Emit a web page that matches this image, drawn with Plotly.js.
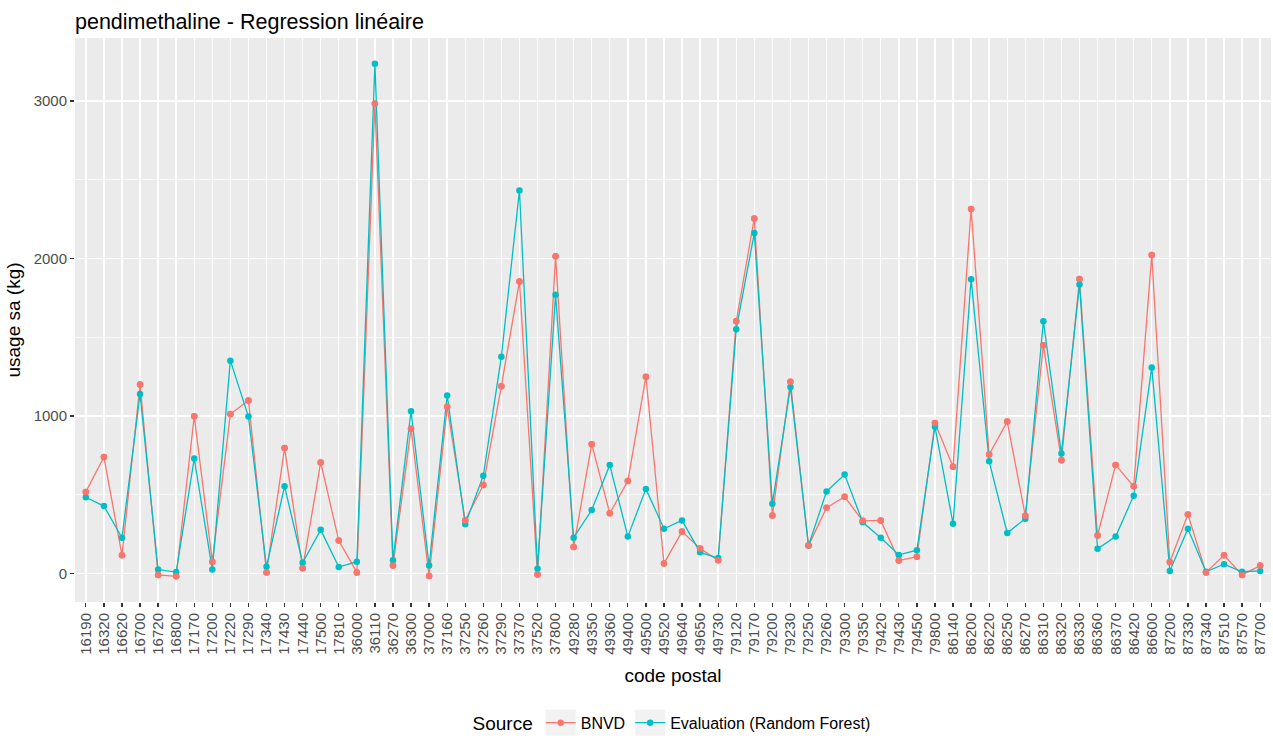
<!DOCTYPE html>
<html>
<head>
<meta charset="utf-8">
<script src="https://cdn.plot.ly/plotly-3.0.1.min.js"></script>
<style>
html,body{margin:0;padding:0;background:#fff;}
#chart{width:1273px;height:738px;}
</style>
</head>
<body>
<div id="chart"></div>
<script>
const codesPostaux = ["16190","16320","16620","16700","16720","16800","17170","17200","17220","17290",
  "17340","17430","17440","17500","17810","36000","36110","36270","36300","37000",
  "37160","37250","37260","37290","37370","37520","37800","49280","49350","49360",
  "49400","49500","49520","49640","49650","49730","79120","79170","79200","79230",
  "79250","79260","79300","79350","79420","79430","79450","79800","86140","86200",
  "86220","86250","86270","86310","86320","86330","86360","86370","86420","86600",
  "87200","87330","87340","87510","87570","87700"];

const bnvd = [518,739,116,1199,-9,-18,998,75,1012,1098,
  7,796,34,705,209,7,2984,50,919,-16,
  1058,337,562,1189,1854,-7,2013,168,821,382,
  587,1249,64,266,159,84,1601,2254,368,1217,
  177,418,487,334,337,82,107,955,678,2313,
  755,964,366,1449,719,1869,241,689,553,2022,
  73,375,7,116,-9,50];

const evaluationRF = [484,428,227,1139,25,9,730,25,1351,996,
  43,553,68,277,41,75,3236,84,1030,50,
  1130,312,621,1376,2431,30,1769,227,403,689,
  234,537,284,337,134,98,1551,2161,443,1183,
  177,521,628,325,227,118,148,932,316,1867,
  712,257,348,1601,762,1835,157,234,494,1308,
  16,284,11,59,11,16];

const yTicks = [0,1000,2000,3000];
const yTickText = ["0","1000","2000","3000"];

const RED = "#F8766D", CYAN = "#00BFC4";
const FONT = "Liberation Sans, Arial, Helvetica, sans-serif";

const traces = [
  {x: codesPostaux, y: bnvd, name: "BNVD", type: "scatter", mode: "lines+markers",
   line: {color: RED, width: 1.3}, marker: {color: RED, size: 6.5}},
  {x: codesPostaux, y: evaluationRF, name: "Evaluation (Random Forest)", type: "scatter", mode: "lines+markers",
   line: {color: CYAN, width: 1.3}, marker: {color: CYAN, size: 6.5}},
  {x: codesPostaux, y: bnvd, name: "BNVD", type: "scatter", mode: "markers", showlegend: false,
   marker: {color: RED, size: 6.5}, hoverinfo: "skip"}
];

const layout = {
  width: 1273, height: 738,
  paper_bgcolor: "#FFFFFF", plot_bgcolor: "#EBEBEB",
  margin: {l: 75, r: 2, t: 38, b: 136, autoexpand: false},
  font: {family: FONT, color: "#000000"},
  title: {text: "pendimethaline - Regression linéaire", font: {family: FONT, size: 21.5, color: "#000000"},
          xref: "paper", x: 0, xanchor: "left", yref: "container", y: 1 - 21/738, yanchor: "middle"},
  xaxis: {
    type: "category", range: [-0.6, codesPostaux.length - 0.4],
    tickangle: -90, tickfont: {family: FONT, size: 15, color: "#4D4D4D"},
    ticks: "outside", ticklen: 4, tickwidth: 1.3, tickcolor: "#333333",
    showgrid: true, gridcolor: "#FFFFFF", gridwidth: 1.4,
    zeroline: false, showline: false, automargin: false,
    title: {text: "code postal", font: {family: FONT, size: 19, color: "#000000"}, standoff: 14}
  },
  yaxis: {
    range: [-181, 3399], tickvals: yTicks, ticktext: yTickText,
    tickfont: {family: FONT, size: 15, color: "#4D4D4D"},
    ticks: "outside", ticklen: 4, tickwidth: 1.3, tickcolor: "#333333",
    showgrid: true, gridcolor: "#FFFFFF", gridwidth: 1.4,
    minor: {dtick: 500, tick0: 0, showgrid: true, gridcolor: "#FFFFFF", gridwidth: 0.7, ticks: ""},
    zeroline: false, showline: false, automargin: false,
    title: {text: "usage sa (kg)", font: {family: FONT, size: 19, color: "#000000"}, standoff: 7}
  },
  legend: {
    orientation: "h", x: 0.5, xanchor: "center", y: -0.215, yanchor: "middle",
    font: {family: FONT, size: 16, color: "#000000"},
    title: {text: "Source", side: "left", font: {family: FONT, size: 19, color: "#000000"}},
    bgcolor: "rgba(0,0,0,0)", itemwidth: 30
  },
  showlegend: true
};

function addLegendKeys() {
  const ns = "http://www.w3.org/2000/svg";
  document.querySelectorAll("#chart .legend g.traces").forEach(function (t) {
    const layers = t.querySelector("g.layers") || t;
    if (layers.querySelector("rect.keybox")) return;
    const r = document.createElementNS(ns, "rect");
    r.setAttribute("class", "keybox");
    r.setAttribute("x", 5); r.setAttribute("y", -13);
    r.setAttribute("width", 30); r.setAttribute("height", 26);
    r.setAttribute("fill", "#F2F2F2");
    layers.insertBefore(r, layers.firstChild);
  });
}

Plotly.newPlot("chart", traces, layout, {displayModeBar: false, staticPlot: true}).then(addLegendKeys);
</script>
</body>
</html>
